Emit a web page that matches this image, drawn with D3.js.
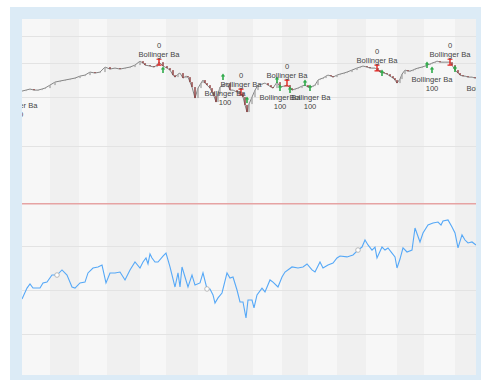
<!DOCTYPE html>
<html><head><meta charset="utf-8">
<script src="https://cdn.jsdelivr.net/npm/d3@7"></script>
<style>body{margin:0;background:#fff}svg{display:block}</style>
</head><body>
<script>
// ---- data ----
const monthBreaks = [0,28,57,85,118,144,176,205,231,260,286,315,344,375,402,433,454];
const priceGrid = [1000,1500,2000,2500];
const lowerGrid = [25,50,75];
const redLevel = 99;

const priceT = [0,4,8,12,16,20,23,28,33,38,43,48,53,58,63,68,73,78,83,88,93,98,103,108,113,118,121,123,128,132,135,137,141,145,148,151,153,156,158,161,164,166,168,170,173,176,179,181,183,185,188,190,192,194,196,198,201,205,208,211,215,218,221,223,225,227,230,233,236,240,243,246,249,251,255,258,262,265,268,270,273,276,280,283,286,288,291,293,296,298,301,304,306,309,311,315,318,322,325,330,335,338,341,345,348,351,353,356,358,362,365,368,371,373,375,378,380,383,386,388,391,393,396,400,403,405,408,410,413,415,418,421,425,428,430,433,436,438,441,443,446,450,453,455];
const priceClose = [1580,1593,1607,1593,1593,1607,1620,1661,1703,1718,1732,1746,1761,1790,1805,1851,1836,1851,1930,1898,1914,1898,1914,1930,1962,2028,1995,1962,1946,1930,1962,2011,1946,1914,1882,1805,1775,1820,1836,1761,1790,1775,1703,1634,1491,1620,1689,1732,1689,1661,1620,1567,1516,1442,1541,1634,1661,1689,1593,1593,1567,1554,1503,1407,1327,1418,1503,1593,1661,1675,1689,1661,1634,1620,1703,1634,1647,1661,1620,1593,1607,1620,1647,1661,1634,1634,1647,1661,1732,1746,1761,1790,1805,1790,1775,1805,1820,1836,1851,1882,1914,1930,1946,1930,1914,1914,1914,1882,1851,1836,1820,1790,1761,1732,1689,1746,1820,1882,1866,1866,1882,1898,1914,1930,1946,1962,1978,1995,2011,2028,2011,2011,2011,2011,1962,1882,1836,1805,1790,1790,1775,1775,1761,1761];

const lowT = [0,5,8,11,18,21,25,30,35,40,45,50,53,58,63,66,71,76,80,84,88,93,98,103,108,113,118,121,124,126,128,130,133,136,141,144,148,153,156,158,160,163,166,170,173,178,181,185,188,191,193,196,200,205,208,211,215,218,221,224,226,230,232,235,240,243,248,251,256,260,263,270,276,281,285,290,293,298,301,306,311,315,318,325,331,336,340,343,346,350,353,355,360,363,366,370,373,375,378,381,385,390,393,398,401,406,411,416,419,421,426,430,433,436,440,443,446,450,454];
const lowVal = [44.9,51.1,53.4,51.1,51.1,54.0,54.5,58.5,58.5,61.4,58.5,51.7,51.1,54.0,54.5,59.7,62.5,63.1,64.2,54.0,59.7,59.7,60.2,55.7,61.4,65.9,62.5,65.9,68.2,64.8,70.5,68.2,65.9,65.9,69.3,71.0,63.1,51.7,59.7,51.7,63.1,57.4,51.7,58.5,52.8,54.0,59.7,50.6,50.6,47.2,42.6,45.5,48.3,59.7,56.8,57.4,50.0,43.2,43.2,34.1,44.3,44.3,39.8,47.2,51.1,48.9,55.7,54.5,51.7,57.4,60.2,63.1,62.5,63.1,64.8,61.4,60.2,65.9,62.5,64.2,65.3,68.2,69.3,68.8,69.9,72.7,74.4,78.4,75.6,72.7,74.4,68.2,74.4,72.7,73.9,71.0,68.8,62.5,67.6,73.9,71.6,72.7,85.2,77.3,82.4,86.9,88.1,88.6,86.9,89.2,89.8,85.8,82.4,73.9,81.3,78.4,76.7,77.3,75.6];
const lowMarkT = [35,185,336];

const sellT = [137,219,265,355,428];
const sellPrice = [2011,1567,1689,1914,2011];
const buyLabelT = [-5,203,258,288,410,465];
const buyLabelPrice = [1516,1675,1620,1620,1882,1746];
const upArrowT = [141,201,225,255,258,268,283,288,360,405,410,433];
const upArrowPrice = [1882,1775,1466,1732,1620,1593,1689,1620,1836,1962,1882,1898];
const labelName = "Bollinger Ba";
const sellText = "0";
const buyText = "100";

// ---- drawing ----
const W = 481, H = 380;
const svg = d3.select("body").append("svg").attr("width", W).attr("height", H);
svg.append("rect").attr("x",10).attr("y",7).attr("width",471).attr("height",373).attr("fill","#dcebf6");

const L = 22, R = 476, T = 19, B = 375;
svg.append("clipPath").attr("id","clip").append("rect").attr("x",L).attr("y",T).attr("width",R-L).attr("height",B-T);
const g = svg.append("g").attr("clip-path","url(#clip)");

const x = d3.scaleLinear().domain([0,454]).range([L,R]);
const yP = d3.scaleLog().domain([1000,2500]).range([146,36]);
const yL = d3.scaleLinear().domain([0,100]).range([378,202]);

// month bands
g.selectAll("rect.band").data(d3.pairs(monthBreaks)).join("rect")
  .attr("x", d => x(d[0])).attr("width", d => x(d[1]) - x(d[0]))
  .attr("y", T).attr("height", B - T)
  .attr("fill", (d,i) => i % 2 === 0 ? "#f7f7f7" : "#f0f0f0");

// gridlines
g.selectAll("line.gp").data(priceGrid).join("line")
  .attr("x1",L).attr("x2",R).attr("y1",d=>Math.round(yP(d))+0.5).attr("y2",d=>Math.round(yP(d))+0.5)
  .attr("stroke","#e3e3e3").attr("stroke-width",1);
g.selectAll("line.gl").data(lowerGrid).join("line")
  .attr("x1",L).attr("x2",R).attr("y1",d=>Math.round(yL(d))+0.5).attr("y2",d=>Math.round(yL(d))+0.5)
  .attr("stroke","#e3e3e3").attr("stroke-width",1);
g.append("line").attr("x1",L).attr("x2",R).attr("y1",yL(redLevel)).attr("y2",yL(redLevel))
  .attr("stroke","#e6a3a3").attr("stroke-width",1.6);

// price line + candle bodies
const price = priceT.map((t,i)=>({t, c: priceClose[i]}));
g.append("path").datum(price)
  .attr("d", d3.line().x(d=>x(d.t)).y(d=>yP(d.c)))
  .attr("fill","none").attr("stroke","#777").attr("stroke-width",0.9);
g.selectAll("rect.candle").data(price.slice(1).map((d,i)=>({t:d.t, o:price[i].c, c:d.c}))).join("rect")
  .attr("x", d => x(d.t) - 0.7).attr("width", 1.4)
  .attr("y", d => Math.min(yP(d.o), yP(d.c)))
  .attr("height", d => Math.max(0.8, Math.abs(yP(d.o) - yP(d.c))))
  .attr("fill", d => d.c < d.o ? "#8c3a3a" : "#a9a9a9");

// lower line
const low = lowT.map((t,i)=>({t, v: lowVal[i]}));
g.append("path").datum(low)
  .attr("d", d3.line().x(d=>x(d.t)).y(d=>yL(d.v)))
  .attr("fill","none").attr("stroke","#55a8f7").attr("stroke-width",1.1);
const lowInterp = t => { const i = lowT.indexOf(t); return lowVal[i]; };
g.selectAll("circle.m").data(lowMarkT).join("circle")
  .attr("cx", d => x(d)).attr("cy", d => yL(lowInterp(d))).attr("r", 2.3)
  .attr("fill","#fff").attr("stroke","#aaa").attr("stroke-width",0.8);

// up arrows (green)
g.selectAll("path.up").data(upArrowT.map((t,i)=>({t,p:upArrowPrice[i]}))).join("path")
  .attr("transform", d => `translate(${x(d.t)},${yP(d.p)})`)
  .attr("d","M0,-3.5 L2.2,-0.5 L0.8,-0.5 L0.8,3 L-0.8,3 L-0.8,-0.5 L-2.2,-0.5 Z")
  .attr("fill","#2faa4a");

// sell markers (red I-beams) + labels
const sells = sellT.map((t,i)=>({t,p:sellPrice[i]}));
g.selectAll("path.sell").data(sells).join("path")
  .attr("transform", d => `translate(${x(d.t)},${yP(d.p)})`)
  .attr("d","M-2.5,-3.5 H2.5 V-2.3 H0.7 V2.3 H2.5 V3.5 H-2.5 V2.3 H-0.7 V-2.3 H-2.5 Z")
  .attr("fill","#e0231f");
const font = "'Liberation Sans', Arial, sans-serif";
const lab = (sel, dy, txt) => sel.append("text").attr("x", d=>x(d.t)).attr("y", d=>yP(d.p)+dy)
  .attr("text-anchor","middle").attr("dominant-baseline","central")
  .attr("font-family",font).attr("font-size","7.6px").attr("fill","#444").text(txt);
const sg = g.selectAll("g.sl").data(sells).join("g");
lab(sg, -7.5, labelName);
lab(sg, -17, sellText);

const buys = buyLabelT.map((t,i)=>({t,p:buyLabelPrice[i]}));
const bg = g.selectAll("g.bl").data(buys).join("g");
lab(bg, 9, labelName);
lab(bg, 18, buyText);
</script>
</body></html>
